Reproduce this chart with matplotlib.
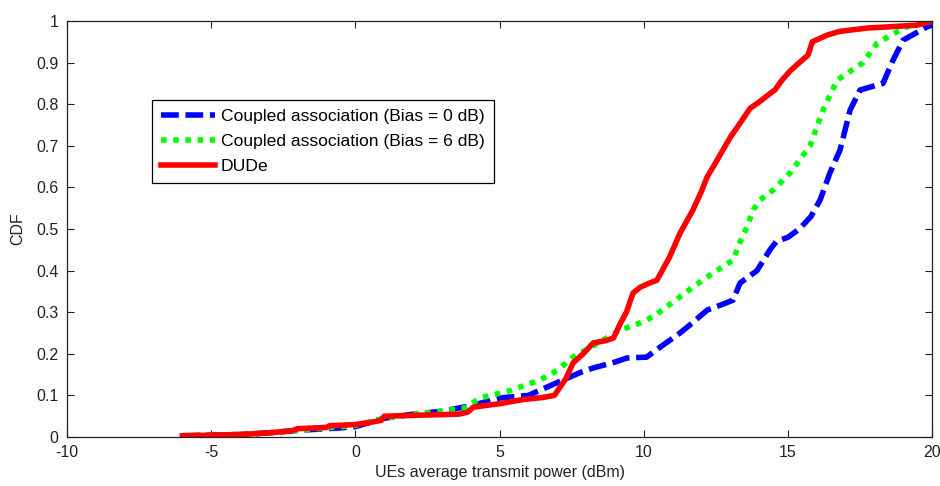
import matplotlib
matplotlib.use("Agg")
import matplotlib.pyplot as plt

plt.rcParams['font.family'] = ['Liberation Sans', 'DejaVu Sans']
plt.rcParams['axes.unicode_minus'] = False

# CDF samples: transmit power (dBm) vs cumulative probability
dude_x = [-6.0, -4.0, -3.0, -2.2, -2.0, -1.0, -0.9, 0.0, 0.5, 0.9, 1.0, 2.0, 3.6, 3.9, 4.1,
          5.0, 5.8, 6.5, 6.9, 7.1, 7.3, 7.55, 7.9, 8.25, 8.7, 8.95, 9.2, 9.4, 9.63, 9.88,
          10.2, 10.46, 10.9, 11.26, 11.71, 12.0, 12.2, 12.5, 12.75, 13.0, 13.3, 13.69,
          14.0, 14.56, 14.8, 15.08, 15.4, 15.7, 15.85, 16.36, 16.8, 17.75, 18.5, 19.48, 20.0]
dude_y = [0.003, 0.006, 0.010, 0.015, 0.020, 0.023, 0.027, 0.030, 0.035, 0.040, 0.050, 0.052,
          0.055, 0.060, 0.072, 0.080, 0.090, 0.095, 0.100, 0.120, 0.140, 0.178, 0.200, 0.226,
          0.232, 0.238, 0.274, 0.300, 0.346, 0.360, 0.370, 0.377, 0.433, 0.490, 0.546, 0.590,
          0.625, 0.660, 0.690, 0.720, 0.750, 0.790, 0.805, 0.835, 0.858, 0.880, 0.900, 0.918,
          0.950, 0.966, 0.975, 0.983, 0.986, 0.990, 1.000]

bias0_x = [-6.0, -4.0, -3.0, -2.0, -1.0, -0.5, 0.0, 1.0, 2.0, 3.0, 4.0, 5.02, 6.0, 7.2,
           7.8, 8.25, 9.0, 9.42, 10.1, 10.57, 11.26, 11.7, 12.2, 12.7, 13.1, 13.34, 13.93,
           14.38, 14.6, 15.0, 15.4, 15.8, 16.12, 16.46, 16.81, 17.16, 17.5, 18.3, 18.65,
           19.0, 19.83, 20.0]
bias0_y = [0.003, 0.006, 0.010, 0.016, 0.020, 0.022, 0.025, 0.045, 0.055, 0.062, 0.075, 0.094,
           0.100, 0.137, 0.155, 0.166, 0.180, 0.190, 0.192, 0.216, 0.250, 0.275, 0.305, 0.318,
           0.329, 0.370, 0.400, 0.450, 0.470, 0.480, 0.500, 0.530, 0.570, 0.635, 0.690, 0.786,
           0.834, 0.850, 0.906, 0.954, 0.986, 0.990]

bias6_x = [-6.0, -4.0, -3.0, -2.0, -1.0, 0.0, 1.0, 2.0, 3.0, 3.8, 4.33, 5.3, 6.4, 7.0,
           7.55, 8.4, 9.18, 9.8, 10.33, 11.26, 11.8, 12.4, 13.1, 13.35, 13.58, 13.8, 14.04,
           14.5, 15.08, 15.77, 16.22, 16.71, 17.61, 18.1, 18.79, 19.48, 20.0]
bias6_y = [0.003, 0.006, 0.010, 0.016, 0.022, 0.028, 0.045, 0.055, 0.062, 0.070, 0.094,
           0.110, 0.137, 0.160, 0.192, 0.225, 0.257, 0.272, 0.289, 0.337, 0.365, 0.394,
           0.425, 0.470, 0.505, 0.546, 0.570, 0.594, 0.635, 0.700, 0.786, 0.858, 0.900,
           0.947, 0.974, 0.998, 1.000]

x_ticks = [-10, -5, 0, 5, 10, 15, 20]
y_ticks = [0, 0.1, 0.2, 0.3, 0.4, 0.5, 0.6, 0.7, 0.8, 0.9, 1]
y_tick_labels = ['0', '0.1', '0.2', '0.3', '0.4', '0.5', '0.6', '0.7', '0.8', '0.9', '1']

fig = plt.figure(figsize=(9.4, 4.86), dpi=100)
ax = fig.add_axes([0.0713, 0.1008, 0.9202, 0.856])

ax.plot(bias0_x, bias0_y, color='#0000ff', lw=4, linestyle=(0, (3.2, 1.2)),
        label='Coupled association (Bias = 0 dB)')
ax.plot(bias6_x, bias6_y, color='#00ff00', lw=4, linestyle=(0, (1.0, 1.2)),
        label='Coupled association (Bias = 6 dB)')
ax.plot(dude_x, dude_y, color='#ff0000', lw=4, linestyle='-', label='DUDe')

ax.set_xlim(-10, 20)
ax.set_ylim(0, 1)
ax.set_xticks(x_ticks)
ax.set_yticks(y_ticks)
ax.set_yticklabels(y_tick_labels)
ax.tick_params(direction='in', top=True, right=True, length=5, width=0.8,
               labelsize=11.5, colors='#222222', pad=6)
for s in ax.spines.values():
    s.set_linewidth(0.9)
    s.set_color('#222222')

ax.set_xlabel('UEs average transmit power (dBm)', fontsize=11.5, color='#222222', labelpad=3)
ax.set_ylabel('CDF', fontsize=11.5, color='#222222', labelpad=8)

leg = ax.legend(loc='upper left', bbox_to_anchor=(0.098, 0.81), fontsize=12.6,
                frameon=True, fancybox=False, edgecolor='black', framealpha=1,
                handlelength=3.1, handletextpad=0.35, borderpad=0.5, labelspacing=0.55,
                borderaxespad=0)
leg.get_frame().set_linewidth(0.9)

fig.savefig('out.png', dpi=100)
